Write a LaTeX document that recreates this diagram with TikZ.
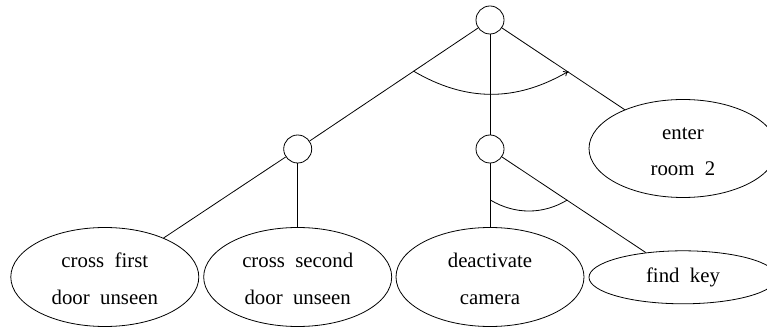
\documentclass[tikz,border=0pt]{standalone}
\usepackage{fontspec}
\setmainfont{Liberation Serif}[WordSpace=2]
\usetikzlibrary{shapes.geometric,arrows.meta}
\newcommand{\toplift}{\rule{0pt}{18.5pt}}
\tikzset{
  gate/.style={draw,circle,minimum size=28pt,inner sep=0pt,line width=0.8pt},
  goal/.style={draw,ellipse,inner sep=0pt,line width=0.8pt,align=center,minimum width=188pt,font=\fontsize{20.8}{36.6}\selectfont},
  conn/.style={line width=0.8pt}
}
\begin{document}
\begin{tikzpicture}[x=1pt,y=-1pt]
\useasboundingbox (0,0) rectangle (767,328);
\node[gate] (root) at (490,20) {};
\node[gate] (left) at (297.7,149) {};
\node[gate] (mid) at (490,149) {};
\node[goal,minimum height=98pt] (enter) at (683,148.5) {\toplift enter\\room 2};
\node[goal,minimum height=99pt] (a) at (104.8,277) {\toplift cross first\\door unseen};
\node[goal,minimum height=99pt] (b) at (297.7,277) {\toplift cross second\\door unseen};
\node[goal,minimum height=99pt] (c) at (490,277) {\toplift deactivate\\camera};
\node[goal,minimum height=53pt] (d) at (683,277.3) {find key};
\draw[conn] (root) -- (left);
\draw[conn] (root) -- (mid);
\draw[conn] (root) -- (enter);
\draw[conn] (left) -- (a);
\draw[conn] (left) -- (b);
\draw[conn] (mid) -- (c);
\draw[conn] (mid) -- (d);
\coordinate (arcA) at (413.3,71);
\coordinate (arcB) at (568.5,71.3);
\coordinate (arcC) at (490.3,200);
\coordinate (arcD) at (567.3,200);
\draw[conn,-{To[length=5pt,width=6pt]}] (arcA) .. controls (466,102) and (516,102) .. (arcB);
\draw[conn] (arcC) .. controls (515,214.7) and (543,214.7) .. (arcD);
\end{tikzpicture}
\end{document}
